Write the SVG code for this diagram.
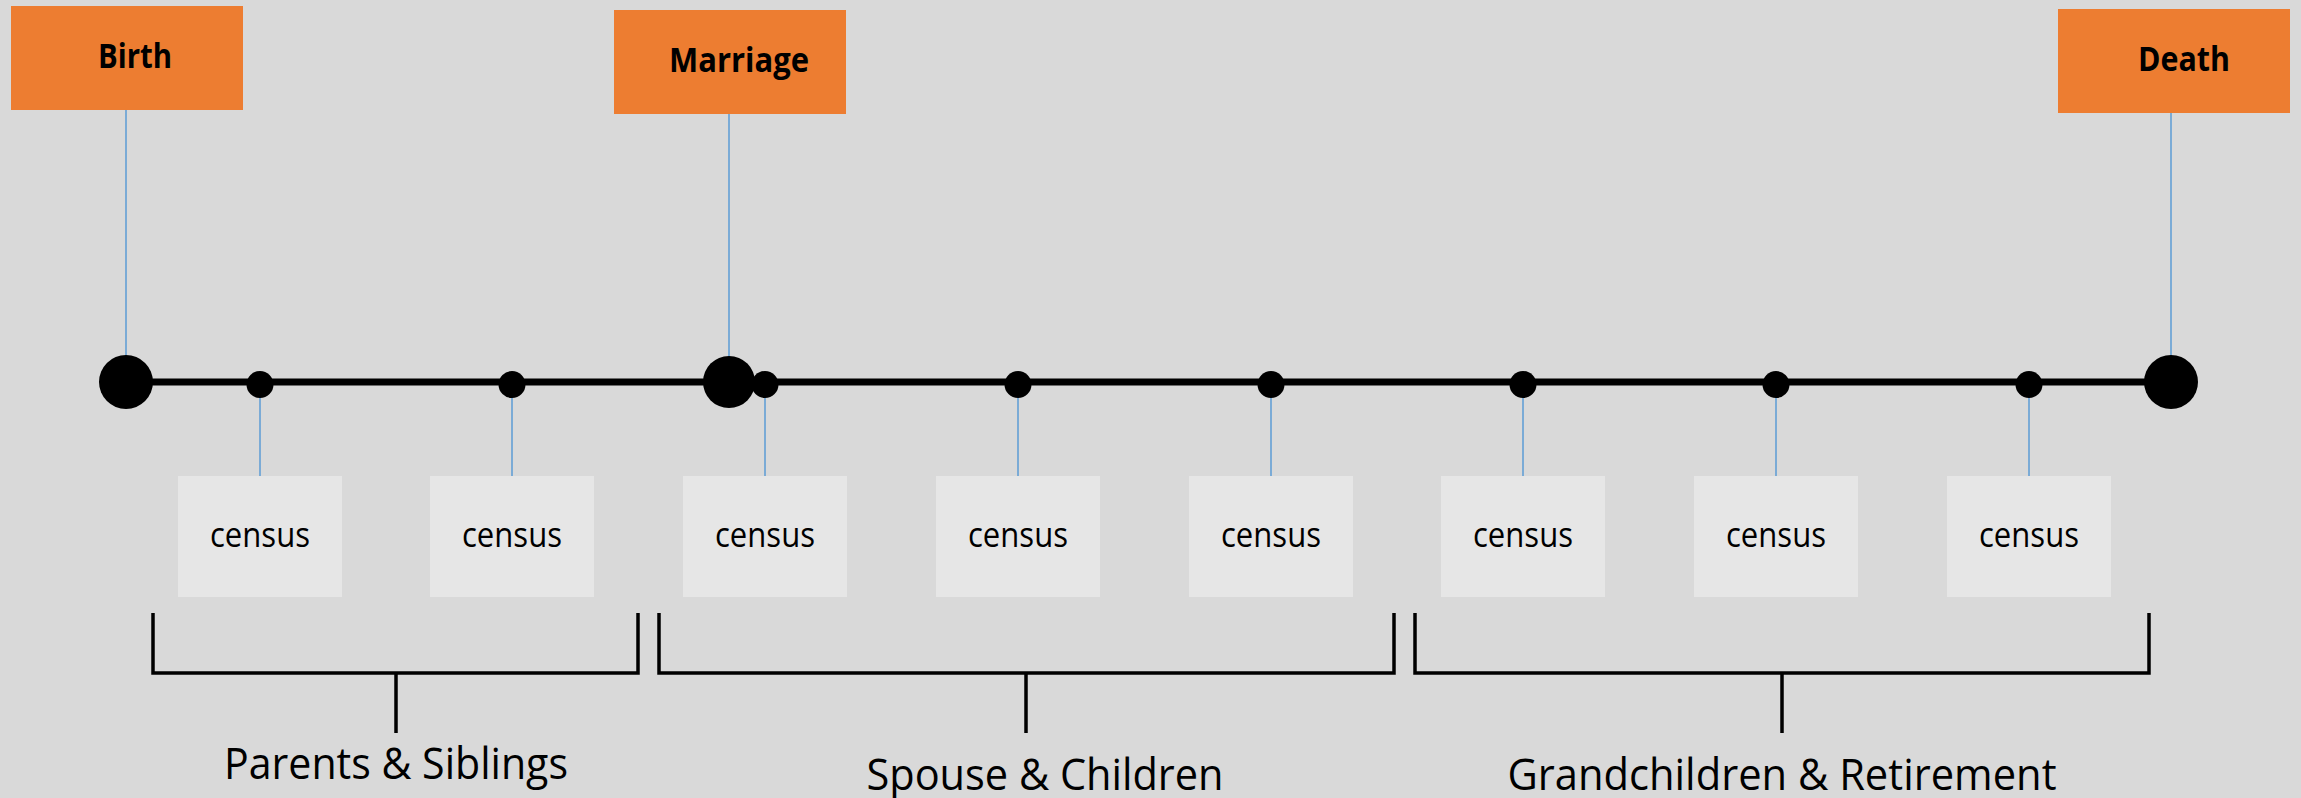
<svg xmlns="http://www.w3.org/2000/svg" width="2301" height="798" viewBox="0 0 2301 798">
<style>
.ev{fill:#ed7d31}
.evt{font-family:"Open Sans","Liberation Sans",sans-serif;font-weight:bold;font-size:34px;fill:#000;text-anchor:middle}
.cb{fill:#e6e6e6}
.ct{font-family:"Open Sans","Liberation Sans",sans-serif;font-size:34px;fill:#000;text-anchor:middle}
.lbl{font-family:"Open Sans","Liberation Sans",sans-serif;font-size:44px;fill:#000;text-anchor:middle}
.blue{stroke:#5b9bd5;stroke-width:1.5;fill:none}
.br{stroke:#000;stroke-width:3.5;fill:none}
</style>
<rect width="2301" height="798" fill="#d9d9d9"/>
<g id="connectors">
<line class="blue" x1="126" y1="110" x2="126" y2="360"/>
<line class="blue" x1="729" y1="114" x2="729" y2="360"/>
<line class="blue" x1="2171" y1="113" x2="2171" y2="360"/>
<line class="blue" x1="260" y1="385" x2="260" y2="476"/>
<line class="blue" x1="512" y1="385" x2="512" y2="476"/>
<line class="blue" x1="765" y1="385" x2="765" y2="476"/>
<line class="blue" x1="1018" y1="385" x2="1018" y2="476"/>
<line class="blue" x1="1271" y1="385" x2="1271" y2="476"/>
<line class="blue" x1="1523" y1="385" x2="1523" y2="476"/>
<line class="blue" x1="1776" y1="385" x2="1776" y2="476"/>
<line class="blue" x1="2029" y1="385" x2="2029" y2="476"/>
</g>
<g id="timeline">
<line x1="126" y1="382" x2="2171" y2="382" stroke="#000" stroke-width="7"/>
<circle cx="126" cy="382" r="27" fill="#000"/>
<circle cx="729" cy="382" r="26" fill="#000"/>
<circle cx="2171" cy="382" r="27" fill="#000"/>
<circle cx="260" cy="384.5" r="13.5" fill="#000"/>
<circle cx="512" cy="384.5" r="13.5" fill="#000"/>
<circle cx="765" cy="384.5" r="13.5" fill="#000"/>
<circle cx="1018" cy="384.5" r="13.5" fill="#000"/>
<circle cx="1271" cy="384.5" r="13.5" fill="#000"/>
<circle cx="1523" cy="384.5" r="13.5" fill="#000"/>
<circle cx="1776" cy="384.5" r="13.5" fill="#000"/>
<circle cx="2029" cy="384.5" r="13.5" fill="#000"/>
</g>
<g id="birth"><rect class="ev" x="11" y="6" width="232" height="104"/><text class="evt" x="135" y="68" textLength="74" lengthAdjust="spacingAndGlyphs">Birth</text></g>
<g id="marriage"><rect class="ev" x="614" y="10" width="232" height="104"/><text class="evt" x="739" y="72" textLength="140" lengthAdjust="spacingAndGlyphs">Marriage</text></g>
<g id="death"><rect class="ev" x="2058" y="9" width="232" height="104"/><text class="evt" x="2184" y="71" textLength="92" lengthAdjust="spacingAndGlyphs">Death</text></g>
<g id="census1"><rect class="cb" x="178" y="476" width="164" height="121"/><text class="ct" x="260" y="547" textLength="100" lengthAdjust="spacingAndGlyphs">census</text></g>
<g id="census2"><rect class="cb" x="430" y="476" width="164" height="121"/><text class="ct" x="512" y="547" textLength="100" lengthAdjust="spacingAndGlyphs">census</text></g>
<g id="census3"><rect class="cb" x="683" y="476" width="164" height="121"/><text class="ct" x="765" y="547" textLength="100" lengthAdjust="spacingAndGlyphs">census</text></g>
<g id="census4"><rect class="cb" x="936" y="476" width="164" height="121"/><text class="ct" x="1018" y="547" textLength="100" lengthAdjust="spacingAndGlyphs">census</text></g>
<g id="census5"><rect class="cb" x="1189" y="476" width="164" height="121"/><text class="ct" x="1271" y="547" textLength="100" lengthAdjust="spacingAndGlyphs">census</text></g>
<g id="census6"><rect class="cb" x="1441" y="476" width="164" height="121"/><text class="ct" x="1523" y="547" textLength="100" lengthAdjust="spacingAndGlyphs">census</text></g>
<g id="census7"><rect class="cb" x="1694" y="476" width="164" height="121"/><text class="ct" x="1776" y="547" textLength="100" lengthAdjust="spacingAndGlyphs">census</text></g>
<g id="census8"><rect class="cb" x="1947" y="476" width="164" height="121"/><text class="ct" x="2029" y="547" textLength="100" lengthAdjust="spacingAndGlyphs">census</text></g>
<g id="group1"><path class="br" d="M153 613 V673 H638 V613 M396 673 V733"/><text class="lbl" x="396" y="779" textLength="344" lengthAdjust="spacingAndGlyphs">Parents &amp; Siblings</text></g>
<g id="group2"><path class="br" d="M659 613 V673 H1394 V613 M1026 673 V733"/><text class="lbl" x="1045" y="790" textLength="357" lengthAdjust="spacingAndGlyphs">Spouse &amp; Children</text></g>
<g id="group3"><path class="br" d="M1415 613 V673 H2149 V613 M1782 673 V733"/><text class="lbl" x="1782" y="790" textLength="549" lengthAdjust="spacingAndGlyphs">Grandchildren &amp; Retirement</text></g>
</svg>
